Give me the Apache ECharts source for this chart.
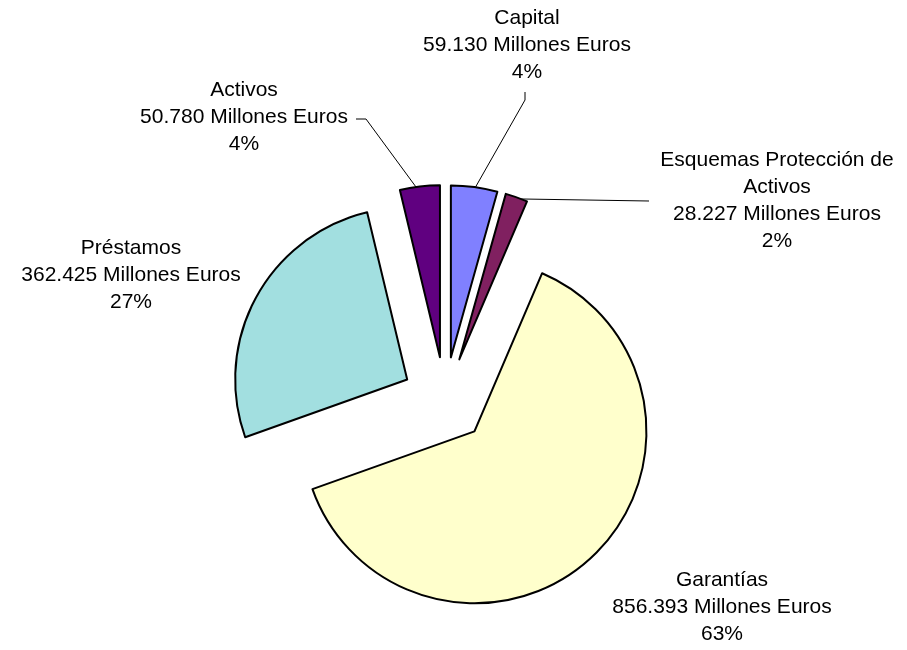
<!DOCTYPE html>
<html>
<head>
<meta charset="utf-8">
<script src="https://cdn.jsdelivr.net/npm/echarts@6/dist/echarts.min.js"></script>
<style>
html,body{margin:0;padding:0;background:#fff;}
#chart{width:907px;height:650px;}
</style>
</head>
<body>
<div id="chart"></div>
<script>
// ---- data ----
const categories = ['Capital', 'Esquemas Protección de Activos', 'Garantías', 'Préstamos', 'Activos'];
const labelNames = ['Capital', 'Esquemas Protección de\nActivos', 'Garantías', 'Préstamos', 'Activos'];
const values = [59.130, 28.227, 856.393, 362.425, 50.780];
const colors = ['#8080FF', '#802060', '#FFFFCC', '#A2DFE0', '#600080'];

// label anchor (centre of text block) and leader lines
const labelCenters = [[527, 45], [777, 201], [722, 607], [131, 275], [244, 117]];
const leaderLines = [
  [[475, 188], [525, 100], [525, 92]],
  [[514, 199], [523, 199], [649, 201]],
  null,
  null,
  [[416, 187], [366, 119], [356, 119]]
];

const total = values.reduce((a, b) => a + b, 0);
const pct = v => Math.round(v / total * 100);

const chart = echarts.init(document.getElementById('chart'), null, {renderer: 'canvas'});
const data = categories.map((c, i) => ({
  name: c,
  value: values[i],
  selected: true,
  itemStyle: {color: colors[i]}
}));

const graphics = [];
categories.forEach((c, i) => {
  graphics.push({
    type: 'text',
    x: labelCenters[i][0],
    y: labelCenters[i][1],
    silent: true,
    style: {
      text: labelNames[i] + '\n' + values[i].toFixed(3) + ' Millones Euros\n' + pct(values[i]) + '%',
      fill: '#000',
      fontFamily: 'Liberation Sans, Arial, sans-serif',
      fontSize: 21,
      lineHeight: 27,
      align: 'center',
      verticalAlign: 'middle'
    }
  });
  if (leaderLines[i]) {
    graphics.push({
      type: 'polyline',
      silent: true,
      shape: {points: leaderLines[i]},
      style: {stroke: '#000', lineWidth: 1, fill: null}
    });
  }
});

chart.setOption({
  animation: false,
  backgroundColor: '#ffffff',
  series: [{
    type: 'pie',
    center: [445, 400],
    radius: 172,
    startAngle: 90,
    clockwise: true,
    selectedMode: 'multiple',
    selectedOffset: 43,
    itemStyle: {borderColor: '#000', borderWidth: 2},
    emphasis: {disabled: true},
    label: {show: false},
    labelLine: {show: false},
    data: data
  }],
  graphic: graphics
});
</script>
</body>
</html>
